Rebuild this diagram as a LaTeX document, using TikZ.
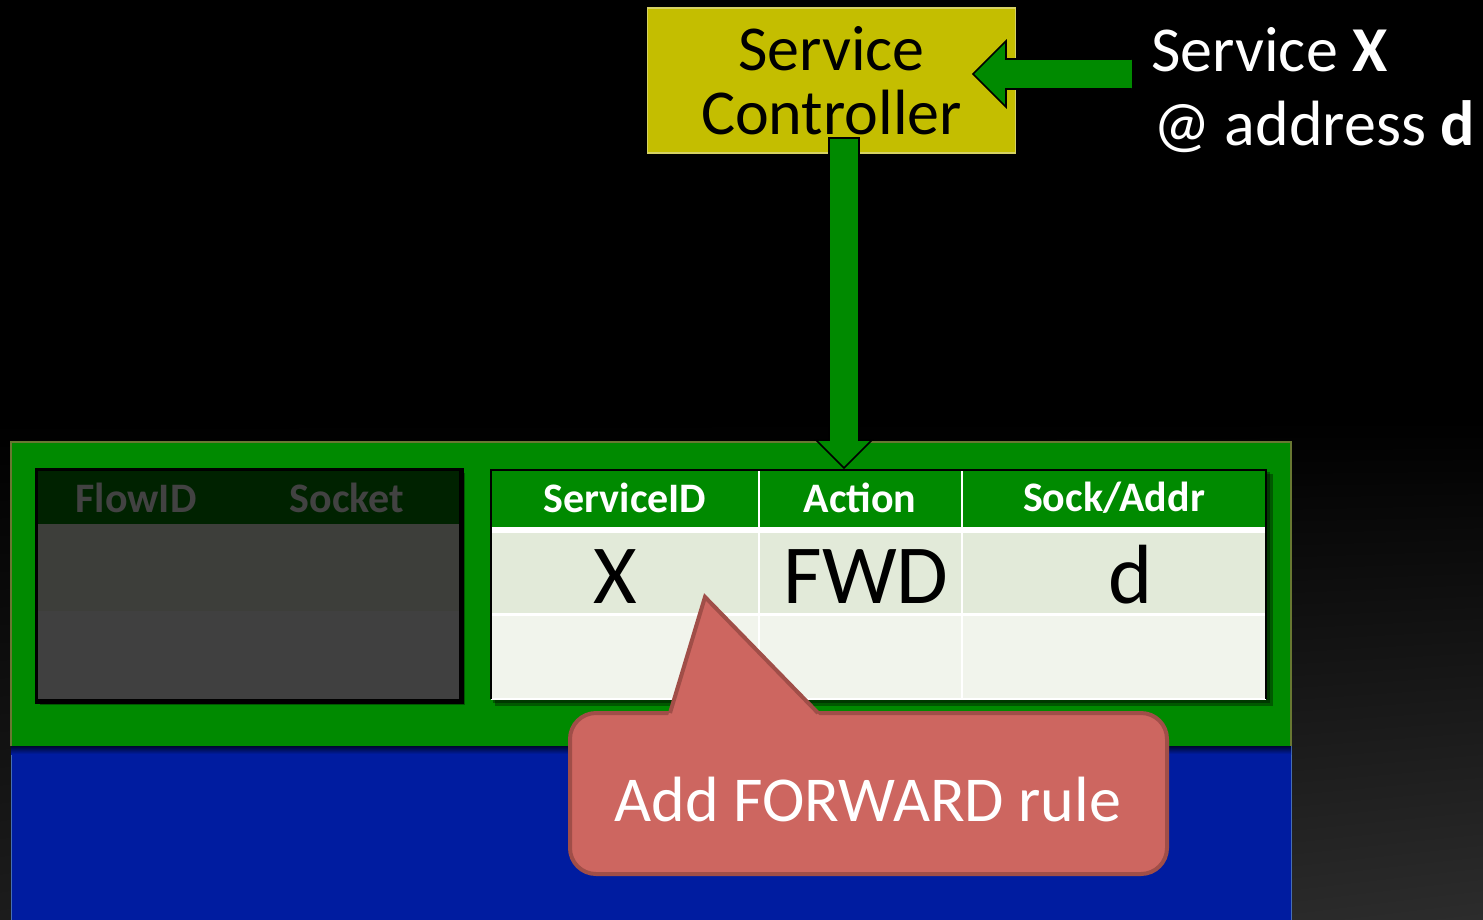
\documentclass[tikz,border=0pt]{standalone}
\usepackage{fontspec}
\setmainfont{Carlito}
\usetikzlibrary{calc,shadings}
\definecolor{ctrlfill}{RGB}{196,190,0}
\definecolor{ctrlline}{RGB}{214,210,100}
\definecolor{boxgreen}{RGB}{0,138,0}
\definecolor{greenedge}{RGB}{104,120,50}
\definecolor{panelblue}{RGB}{0,28,160}
\definecolor{blueedge}{RGB}{70,110,180}
\definecolor{calloutfill}{RGB}{205,102,96}
\definecolor{calloutline}{RGB}{160,78,72}
\definecolor{darkhead}{RGB}{0,34,0}
\definecolor{darkrow}{RGB}{61,62,58}
\definecolor{darkrowb}{RGB}{64,64,64}
\definecolor{dimtext}{RGB}{66,66,66}
\definecolor{rowa}{RGB}{226,234,217}
\definecolor{rowb}{RGB}{241,244,236}
\definecolor{bgcorner}{RGB}{44,44,44}
\definecolor{bgleft}{RGB}{28,28,28}
\begin{document}
\begin{tikzpicture}[x=1pt,y=-1pt,
  big/.style={font=\fontsize{64}{64}\selectfont},
  hdr/.style={font=\fontsize{42}{46}\selectfont\bfseries, inner sep=0},
  cell/.style={font=\fontsize{84}{90}\selectfont, text=black, inner sep=0},
  blockarrow/.style={fill=boxgreen, draw=black, line width=1.6pt, line join=miter},
  softshadow/.style={fill=black, opacity=0.35},
  gridline/.style={draw=white, line width=2.5pt},
]
\useasboundingbox (0,0) rectangle (1483,919);
% dark backdrop, lighter toward the bottom, most of all at the lower right
\fill[black] (0,0) rectangle (1483,919);
\shade[upper left=black, upper right=black, lower left=bgleft, lower right=bgcorner]
  (0,420) rectangle (1483,919);

% host panels
\fill[panelblue] (11,746) rectangle (1291,925);
\draw[blueedge, line width=1pt] (11,746) -- (11,925) (1291,746) -- (1291,925);
\shade[top color=black!70!panelblue, bottom color=panelblue] (11,746) rectangle (1291,754);
\fill[boxgreen] (11,442) rectangle (1291,746);
\draw[greenedge, line width=1.2pt] (11,746) -- (11,442) -- (1291,442) -- (1291,746);

% flow table (dimmed)
\fill[softshadow] (40,473) rectangle (465,705);
\fill[softshadow] (38,471) rectangle (462,702);
\node[draw=black, line width=3pt, minimum width=423pt, minimum height=230pt, inner sep=0,
      anchor=north west] (flowtab) at (36,469) {};
\fill[darkhead] (36,469) rectangle (459,524);
\fill[darkrow] (36,524) rectangle (459,611);
\fill[darkrowb] (36,611) rectangle (459,699);
\draw[black, line width=3pt] (flowtab.north west) rectangle (flowtab.south east);
\node[hdr, text=dimtext] (flowid) at (136,498) {FlowID};
\node[hdr, text=dimtext] (socket) at (347,498) {Socket};

% service table
\fill[softshadow] (495,474) rectangle (1273,706);
\fill[softshadow] (493,472) rectangle (1270,703);
\node[minimum width=775pt, minimum height=229pt, inner sep=0, anchor=north west]
  (svctab) at (491,470) {};
\fill[boxgreen] (491,470) rectangle (1266,527);
\fill[white] (491,527) rectangle (1266,533);
\fill[rowa] (491,533) rectangle (1266,613);
\fill[white] (491,613) rectangle (1266,616);
\fill[rowb] (491,616) rectangle (1266,699);
\draw[gridline] (759,470) -- (759,699) (962,470) -- (962,699);
\draw[white, line width=2.5pt] (491,699) -- (1266,699);
\draw[black, line width=2.5pt] (491,699) -- (491,470) -- (1266,470) -- (1266,699);
\node[hdr, text=white] (h1) at (625,498) {ServiceID};
\node[hdr, text=white] (h2) at (860,498) {Action};
\node[hdr, text=white] (h3) at (1114,498) {Sock/Addr};
\node[cell, anchor=base] (c1) at (615,603) {X};
\node[cell, anchor=base] (c2) at (866,603) {FWD};
\node[cell, anchor=base] (c3) at (1131,603) {d};

% service controller
\node[big, fill=ctrlfill, draw=ctrlline, line width=1.2pt, align=center,
      minimum width=368pt, minimum height=145pt, inner sep=0] (ctrl) at (831.5,80.5)
      {Service\\Controller};

% announcement arrow into the controller
\coordinate (lin) at (1131,74);
\coordinate (ltip) at (973,74);
\draw[blockarrow] ($(lin)+(0,-15)$) -- ($(ltip)+(33,-15)$) -- ($(ltip)+(33,-33)$) -- (ltip)
  -- ($(ltip)+(33,33)$) -- ($(ltip)+(33,15)$) -- ($(lin)+(0,15)$);
\fill[boxgreen] ($(lin)+(-2,-14.2)$) rectangle ($(lin)+(1,14.2)$);

% rule push from the controller down to the service table
\coordinate (dtop) at (844,138);
\coordinate (dtip) at (844,468);
\draw[blockarrow] ($(dtop)+(-15,0)$) -- ($(dtip)+(-15,-28)$) -- ($(dtip)+(-28,-28)$) -- (dtip)
  -- ($(dtip)+(28,-28)$) -- ($(dtip)+(15,-28)$) -- ($(dtop)+(15,0)$) -- cycle;

% announcement text
\node[big, text=white, anchor=base west, inner sep=0] (svc) at (1151,71) {Service \textbf{X}};
\node[big, text=white, anchor=base west, inner sep=0] (addr) at (1153,145) {@ address \textbf{d}};

% callout
\draw[fill=calloutfill, draw=calloutline, line width=4pt, rounded corners=26pt]
  (570,713) rectangle (1167,874);
\fill[calloutfill] (668,716) -- (705,597) -- (820,716) -- cycle;
\draw[calloutline, line width=4pt, line join=miter] (670,713) -- (705,597) -- (818,713);
\node[big, text=white] (note) at (868,800) {Add FORWARD rule};
\end{tikzpicture}
\end{document}
